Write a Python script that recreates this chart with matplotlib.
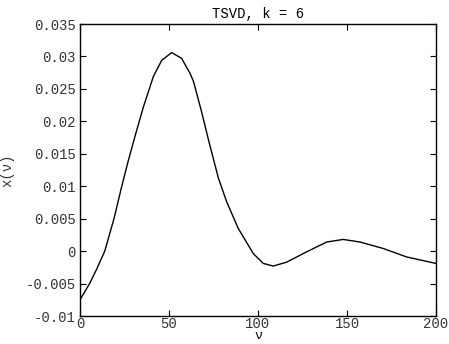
import matplotlib
matplotlib.use("Agg")
import matplotlib.pyplot as plt

nu = [0, 5.4, 9.5, 13.9, 19.1, 23.2, 27.0, 31.0, 35.6, 41.2, 45.9, 51.5, 57.1, 61.8,
      63.7, 68.0, 72.5, 77.7, 82.4, 88.9, 97.4, 103.0, 108.6, 116.1, 127.4, 138.6,
      147.9, 157.3, 170.4, 183.5, 200.0]
x_nu = [-0.0075, -0.0050, -0.0027, 0.0, 0.0050, 0.0097, 0.0138, 0.0178, 0.0222,
        0.0269, 0.0294, 0.0306, 0.0297, 0.0274, 0.0262, 0.0218, 0.0168, 0.0113,
        0.0076, 0.0035, -0.0004, -0.0019, -0.0023, -0.0017, -0.0001, 0.0014,
        0.0018, 0.0014, 0.0004, -0.0009, -0.0019]

xticks = [0, 50, 100, 150, 200]
yticks = [-0.01, -0.005, 0, 0.005, 0.01, 0.015, 0.02, 0.025, 0.03, 0.035]
ytick_labels = ["-0.01", "-0.005", "0", "0.005", "0.01", "0.015", "0.02", "0.025", "0.03", "0.035"]

plt.rcParams['font.family'] = ['Liberation Mono', 'DejaVu Sans Mono']
plt.rcParams['font.size'] = 10

fig = plt.figure(figsize=(4.49, 3.44), dpi=100)
ax = fig.add_axes([80/449, 1-316/344, 356/449, 292/344])
ax.plot(nu, x_nu, color='black', linewidth=1.0, solid_joinstyle='round')
ax.set_xlim(0, 200)
ax.set_ylim(-0.01, 0.035)
ax.set_xticks(xticks)
ax.set_xticklabels([str(t) for t in xticks])
ax.set_yticks(yticks)
ax.set_yticklabels(ytick_labels)
ax.tick_params(direction='in', top=True, right=True, length=4, width=0.8,
               labelsize=10, colors='black', labelcolor='#333333', pad=3)
ax.tick_params(axis='x', pad=1)
for s in ax.spines.values():
    s.set_linewidth(1.0)
ax.set_title("TSVD, k = 6", fontsize=10, pad=4)
ax.set_xlabel("ν", fontsize=9.5, labelpad=-1)
ax.set_ylabel("x(ν)", fontsize=10, labelpad=8, color='#333333')
fig.savefig("out.png", dpi=100)
